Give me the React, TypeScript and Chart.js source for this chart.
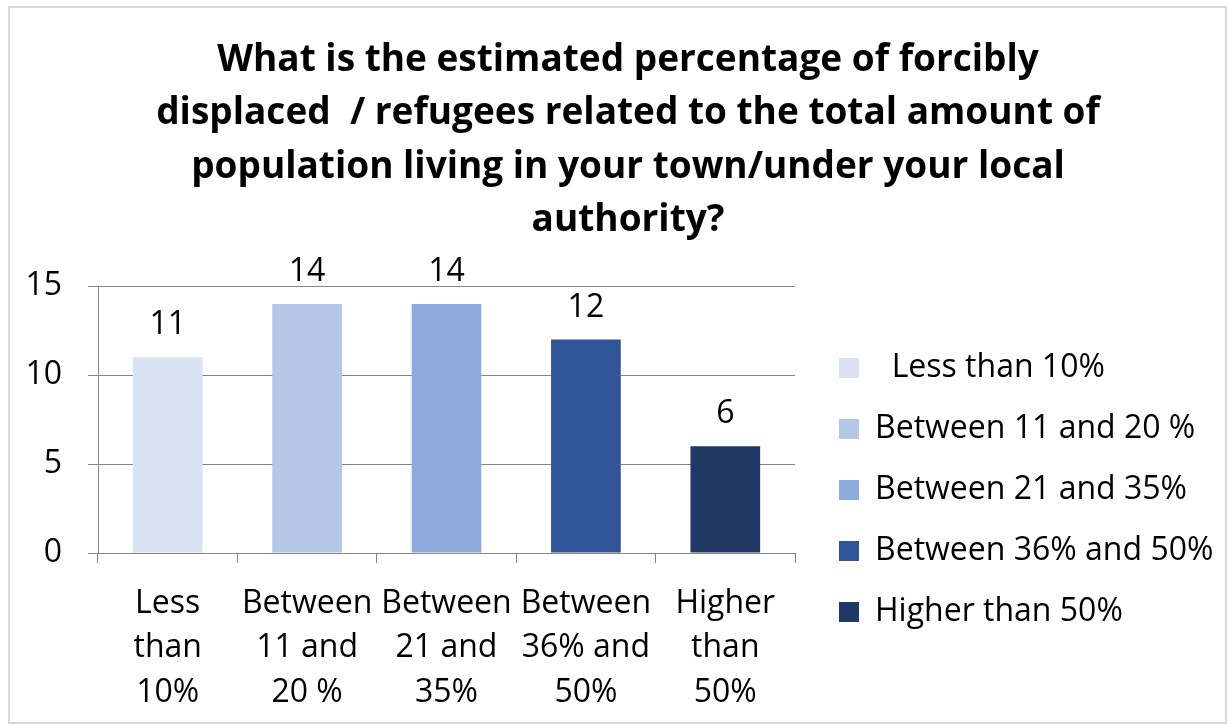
import React, { useEffect, useRef } from "react";
import { Chart, registerables } from "chart.js";

Chart.register(...registerables);

const titleLines = [
  "What is the estimated percentage of forcibly",
  "displaced  / refugees related to the total amount of",
  "population living in your town/under your local",
  "authority?",
];
const categories = [
  ["Less", "than", "10%"],
  ["Between", "11 and", "20 %"],
  ["Between", "21 and", "35%"],
  ["Between", "36% and", "50%"],
  ["Higher", "than", "50%"],
];
const legendLabels = [
  "  Less than 10%",
  "Between 11 and 20 %",
  "Between 21 and 35%",
  "Between 36% and 50%",
  "Higher than 50%",
];
const values = [11, 14, 14, 12, 6];
const barColors = ["#DAE3F3", "#B4C7E7", "#8FAADC", "#2F5597", "#203864"];
const FONT = "'Open Sans', sans-serif";

const valueLabels = {
  id: "valueLabels",
  afterDatasetsDraw(chart: any) {
    const ctx = chart.ctx;
    const meta = chart.getDatasetMeta(0);
    const top = chart.chartArea.top;
    ctx.save();
    ctx.font = `32px ${FONT}`;
    ctx.fillStyle = "#000";
    ctx.textAlign = "center";
    ctx.textBaseline = "middle";
    meta.data.forEach((bar: any, i: number) => {
      const y = Math.max(bar.y - 32, top - 16);
      ctx.fillText(String(values[i]), bar.x, y);
    });
    ctx.restore();
  },
};

const titleShift = {
  id: "titleShift",
  afterLayout(chart: any) {
    const t = chart.titleBlock;
    if (t) {
      t.left += 13;
      t.right += 13;
    }
  },
};

export default function App() {
  const ref = useRef<HTMLCanvasElement>(null);
  useEffect(() => {
    if (!ref.current) return;
    Chart.defaults.color = "#000";
    const chart = new Chart(ref.current, {
      type: "bar",
      data: {
        labels: categories,
        datasets: [
          {
            data: values,
            backgroundColor: barColors,
            borderWidth: 0,
            barPercentage: 0.5,
            categoryPercentage: 1,
          },
        ],
      },
      options: {
        animation: false,
        responsive: false,
        maintainAspectRatio: false,
        layout: { padding: { left: 0, right: 5, top: 0, bottom: 2 } },
        plugins: {
          title: {
            display: true,
            text: titleLines,
            color: "#000",
            font: { family: FONT, size: 37, weight: "bold", lineHeight: 1.44 },
            padding: { top: 26, bottom: 39 },
          },
          tooltip: { enabled: false },
          legend: {
            position: "right",
            align: "start",
            maxWidth: 410,
            title: {
              display: true,
              text: " ",
              font: { family: FONT, size: 10, lineHeight: 1 },
              padding: { top: 305, bottom: 0 },
            },
            labels: {
              color: "#000",
              font: { family: FONT, size: 32, lineHeight: 1.2 },
              boxWidth: 20,
              boxHeight: 20,
              padding: 29,
              generateLabels: () =>
                legendLabels.map((t, i) => ({
                  text: t,
                  fillStyle: barColors[i],
                  strokeStyle: barColors[i],
                  lineWidth: 0,
                  hidden: false,
                  index: i,
                  datasetIndex: 0,
                })),
            },
          },
        },
        scales: {
          x: {
            offset: true,
            grid: {
              offset: true,
              drawOnChartArea: false,
              color: "#868686",
              tickLength: 10,
            },
            border: { color: "#868686" },
            ticks: {
              color: "#000",
              font: { family: FONT, size: 32, lineHeight: 1.4 },
              padding: 18,
              maxRotation: 0,
              autoSkip: false,
            },
            afterFit: (scale: any) => {
              scale.height = 167;
            },
          },
          y: {
            min: 0,
            max: 15,
            grid: { color: "#868686", tickLength: 10 },
            border: { color: "#868686" },
            ticks: {
              stepSize: 5,
              color: "#000",
              font: { family: FONT, size: 32 },
              padding: 26,
            },
            afterFit: (scale: any) => {
              scale.width = 88;
            },
          },
          ySpacer: {
            position: "right",
            display: true,
            min: 0,
            max: 15,
            grid: { display: false, drawTicks: false },
            border: { display: false },
            ticks: { display: false },
            afterFit: (scale: any) => {
              scale.width = 15;
            },
          },
        },
      },
      plugins: [valueLabels, titleShift],
    });
    return () => chart.destroy();
  }, []);
  return (
    <div
      style={{
        position: "absolute",
        left: 8,
        top: 6,
        width: 1219,
        height: 718,
        border: "2px solid #D9D9D9",
        boxSizing: "border-box",
        background: "#fff",
      }}
    >
      <canvas ref={ref} width={1215} height={714} style={{ display: "block" }} />
    </div>
  );
}
